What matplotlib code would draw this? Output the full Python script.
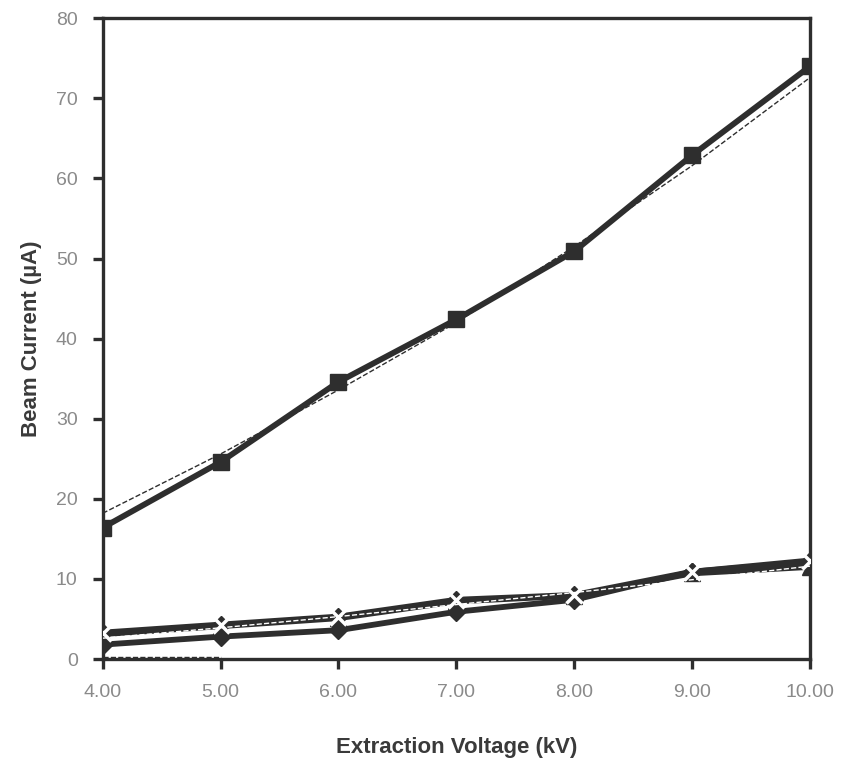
import matplotlib
matplotlib.use("Agg")
import matplotlib.pyplot as plt

plt.rcParams['font.family'] = ['Liberation Sans', 'DejaVu Sans']

# extraction voltage (kV)
voltage = [4, 5, 6, 7, 8, 9, 10]

# beam current readings (uA)
high_current = [16.4, 24.6, 34.6, 42.4, 50.9, 62.9, 74.0]
high_trend = [18.2, 25.6, 33.6, 42.0, 51.5, 61.6, 72.6]

low_diamond = [1.8, 2.8, 3.6, 5.9, 7.4, 10.9, 12.1]
low_cross = [3.3, 4.3, 5.3, 7.4, 8.0, 10.9, 12.3]
low_triangle = [3.1, 4.1, 5.1, 7.2, 7.9, 10.7, 11.5]
low_trend = [2.6, 3.9, 5.3, 6.8, 8.3, 9.9, 11.6]
base_trend_x = [4, 5]
base_trend = [0.3, 0.3]

xticks = [4, 5, 6, 7, 8, 9, 10]
yticks = [0, 10, 20, 30, 40, 50, 60, 70, 80]

dark = "#2e2e2e"

fig = plt.figure(figsize=(8.42, 7.61), dpi=100)
ax = fig.add_axes([0.122, 0.134, 0.84, 0.842])

ax.plot(voltage, high_current, color=dark, lw=4.2, marker="s", ms=12, zorder=3)
ax.plot(voltage, high_trend, color=dark, lw=1, ls="--", zorder=2)

ax.plot(voltage, low_triangle, color=dark, lw=4.2, marker="^", ms=11, zorder=3)
ax.plot(voltage, low_cross, color=dark, lw=4.2, marker="D", ms=9, zorder=3)
ax.plot(voltage, low_cross, color="white", lw=0, marker="x", ms=12, mew=2.5, zorder=4)
ax.plot(voltage, low_diamond, color=dark, lw=4.2, marker="D", ms=9, zorder=3)
ax.plot(voltage, low_trend, color="white", lw=1, ls="--", zorder=4)
ax.plot(base_trend_x, base_trend, color=dark, lw=1, ls="--", zorder=2)

ax.set_xlim(4, 10)
ax.set_ylim(0, 80)
ax.set_xticks(xticks)
ax.set_xticklabels(["%.2f" % v for v in xticks])
ax.set_yticks(yticks)

for s in ax.spines.values():
    s.set_color(dark)
    s.set_linewidth(2.4)
ax.tick_params(direction="out", length=7, width=2.4, color=dark,
               labelsize=14, labelcolor="#8a8a8a", pad=11)

ax.set_xlabel("Extraction Voltage (kV)", fontsize=16, color="#3a3a3a",
              fontweight="bold", labelpad=26)
ax.set_ylabel("Beam Current (µA)", fontsize=16, color="#3a3a3a",
              fontweight="bold", labelpad=10)

fig.savefig("out.png", dpi=100)
